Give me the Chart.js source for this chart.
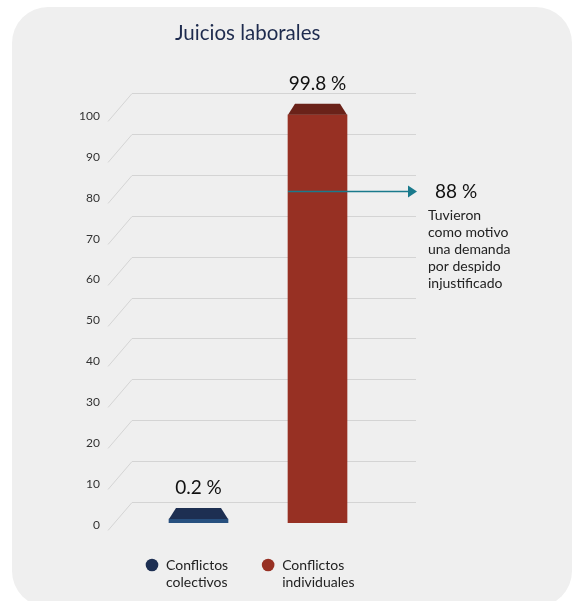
<!DOCTYPE html>
<html><head><meta charset="utf-8">
<script src="https://cdn.jsdelivr.net/npm/chart.js@4.4.0/dist/chart.umd.min.js"></script>
<style>
html,body{margin:0;padding:0;background:#fff;width:572px;height:601px;overflow:hidden;}
#panel{position:absolute;left:12px;top:7px;width:560px;height:600px;background:#efefef;border-radius:36px;}
#wrap{position:absolute;left:0;top:0;width:572px;height:601px;}
</style></head><body>
<div id="panel"></div>
<div id="wrap"><canvas id="c" width="572" height="601"></canvas></div>
<script>
const chartTitle = 'Juicios laborales';
const categories = ['Conflictos colectivos', 'Conflictos individuales'];
const values = [0.2, 99.8];
const frontColors = ['#27507f', '#973023'];
const capColors = ['#1d2f52', '#6a2219'];
const legendColors = ['#1d2f52', '#973023'];
const yTicks = [0, 10, 20, 30, 40, 50, 60, 70, 80, 90, 100];
const noteValue = 88;
const noteLines = ['Tuvieron', 'como motivo', 'una demanda', 'por despido', 'injustificado'];
const arrowLevel = 81.2;

const FONT = 'Lato, "Open Sans", sans-serif';

const frame3d = {
  id: 'frame3d',
  beforeDatasetsDraw(chart) {
    const {ctx, chartArea: ca, scales: {y}} = chart;
    ctx.save();
    ctx.strokeStyle = '#d4d4d4';
    ctx.lineWidth = 1;
    yTicks.forEach(v => {
      const fy = Math.round(y.getPixelForValue(v)) + 0.5;
      ctx.beginPath();
      ctx.moveTo(ca.left - 31, fy + 7);
      ctx.lineTo(ca.left - 7, fy - 21);
      ctx.lineTo(ca.right + 39, fy - 21);
      ctx.stroke();
    });
    ctx.restore();
  },
  afterDatasetsDraw(chart) {
    const {ctx, chartArea: ca, scales: {y}} = chart;
    const meta = chart.getDatasetMeta(0);
    ctx.save();
    meta.data.forEach((bar, i) => {
      const {x, y: top, width} = bar.getProps(['x', 'y', 'width'], true);
      const l = x - width / 2, r = x + width / 2;
      ctx.fillStyle = capColors[i];
      ctx.beginPath();
      ctx.moveTo(l, top);
      ctx.lineTo(l + 7, top - 11);
      ctx.lineTo(r - 7, top - 11);
      ctx.lineTo(r, top);
      ctx.closePath();
      ctx.fill();
      ctx.fillStyle = '#111';
      ctx.font = '19px ' + FONT;
      ctx.textAlign = 'center';
      ctx.textBaseline = 'middle';
      ctx.fillText(String(values[i]) + ' %', x, top - 31);
    });
    // arrow annotation from the big bar
    const big = meta.data[1].getProps(['x', 'width'], true);
    const ya = Math.round(y.getPixelForValue(arrowLevel)) + 0.5;
    const xs = big.x - big.width / 2, xe = ca.right + 40;
    ctx.strokeStyle = '#1a7a8c';
    ctx.fillStyle = '#1a7a8c';
    ctx.lineWidth = 1.5;
    ctx.beginPath();
    ctx.moveTo(xs, ya);
    ctx.lineTo(xe - 8, ya);
    ctx.stroke();
    ctx.beginPath();
    ctx.moveTo(xe - 9, ya - 6);
    ctx.lineTo(xe, ya);
    ctx.lineTo(xe - 9, ya + 6);
    ctx.closePath();
    ctx.fill();
    ctx.fillStyle = '#111';
    ctx.textAlign = 'left';
    ctx.textBaseline = 'middle';
    ctx.font = '19px ' + FONT;
    ctx.fillText(noteValue + ' %', ca.right + 58, ya);
    ctx.fillStyle = '#222';
    ctx.font = '14px ' + FONT;
    noteLines.forEach((t, k) => ctx.fillText(t, ca.right + 51, ya + 23.5 + k * 17));
    ctx.restore();
  },
  afterDraw(chart) {
    const {ctx, chartArea: ca} = chart;
    ctx.save();
    // title
    ctx.fillStyle = '#1e2b4e';
    ctx.font = '20.5px ' + FONT;
    ctx.textAlign = 'left';
    ctx.textBaseline = 'middle';
    ctx.fillText(chartTitle, ca.left + 36, ca.top - 81);
    // legend
    ctx.font = '14px ' + FONT;
    let cx = ca.left + 13;
    const ly = ca.bottom + 42;
    categories.forEach((c, i) => {
      const lines = c.split(' ');
      ctx.fillStyle = legendColors[i];
      ctx.beginPath();
      ctx.arc(cx, ly, 6.3, 0, Math.PI * 2);
      ctx.fill();
      ctx.fillStyle = '#222';
      let w = 0;
      lines.forEach((t, k) => {
        ctx.fillText(t, cx + 14, ly + k * 17);
        w = Math.max(w, ctx.measureText(t).width);
      });
      cx += 14 + w + 40;
    });
    ctx.restore();
  }
};

const chart = new Chart(document.getElementById('c'), {
  type: 'bar',
  data: {
    labels: categories,
    datasets: [{
      data: values,
      backgroundColor: frontColors,
      borderWidth: 0,
      barThickness: 59,
      minBarLength: 4
    }]
  },
  options: {
    responsive: false,
    devicePixelRatio: 1,
    animation: false,
    layout: {padding: {left: 69, right: 195, top: 114, bottom: 78}},
    scales: {
      x: {display: false, offset: true},
      y: {
        min: 0, max: 100,
        afterFit(s) { s.width = 70; },
        grid: {display: false, drawTicks: false},
        border: {display: false},
        ticks: {stepSize: 10, padding: 39, labelOffset: 2, color: '#333', font: {family: FONT, size: 12}}
      }
    },
    plugins: {
      tooltip: {enabled: false},
      title: {display: false},
      legend: {display: false}
    }
  },
  plugins: [frame3d]
});
</script>
</body></html>
